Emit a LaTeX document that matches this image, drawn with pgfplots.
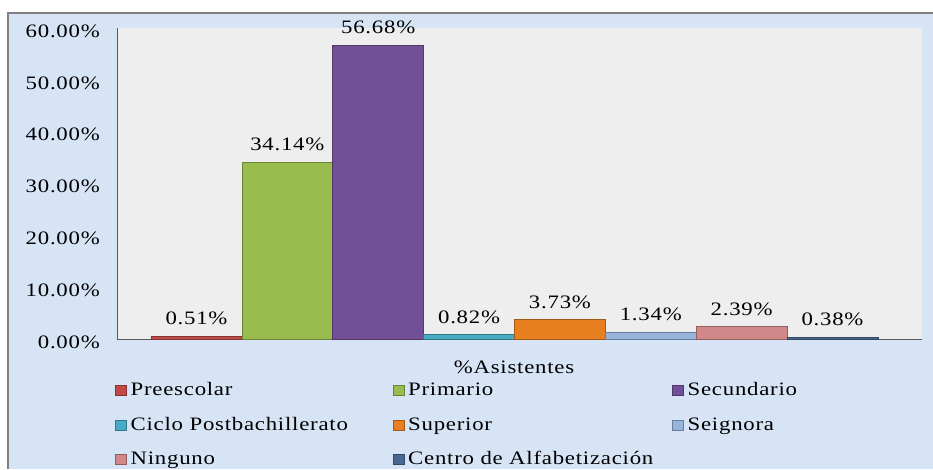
\documentclass[border=0pt]{standalone}
\usepackage{pgfplots}
\pgfplotsset{compat=1.18}
\usepackage{fontspec}
\setmainfont{Liberation Serif}[FakeStretch=1.2,LetterSpace=4]
\definecolor{bgblue}{RGB}{214,228,245}
\definecolor{plotbg}{RGB}{238,238,238}
\definecolor{cPre}{RGB}{192,72,70}
\definecolor{cPri}{RGB}{152,188,78}
\definecolor{cSec}{RGB}{114,80,152}
\definecolor{cCic}{RGB}{72,170,196}
\definecolor{cSup}{RGB}{232,128,34}
\definecolor{cSei}{RGB}{150,180,220}
\definecolor{cNin}{RGB}{208,136,136}
\definecolor{cCen}{RGB}{72,104,146}
\newcommand\cf{\rmfamily\fontsize{19pt}{22pt}\selectfont}
\pgfplotsset{
  mybar/.style={fill=#1, draw=#1!70!black, line width=0.6pt,
    legend image code/.code={\draw[fill=#1, draw=#1!70!black, line width=0.5pt] (0pt,-4pt) rectangle (11pt,6pt);}},
}
\begin{document}
\begin{tikzpicture}
\path[use as bounding box, fill=white] (0,0) rectangle (933pt,-469pt);
\fill[bgblue] (8pt,-13pt) rectangle (933pt,-469pt);
\draw[gray, line width=2pt] (8pt,-469pt) -- (8pt,-13pt) -- (933pt,-13pt);
\node[font=\cf, anchor=north, inner sep=0pt] at (514pt,-361pt) {\%Asistentes};
\begin{axis}[
  at={(117pt,-339pt)}, anchor=south west,
  scale only axis, width=805pt, height=311pt,
  xmin=-0.875, xmax=7.985, ymin=0, ymax=60,
  axis background/.style={fill=plotbg},
  axis x line=bottom, axis y line=left,
  axis line style={-, draw=gray!70!black, line width=0.8pt},
  /pgf/number format/assume math mode=true,
  ytick={0,10,...,60},
  yticklabel={\pgfmathprintnumber[fixed,fixed zerofill,precision=2]{\tick}\%},
  yticklabel style={font=\cf, inner sep=0pt, xshift=-17pt, yshift=-3pt},
  major tick length=0pt,
  xtick=\empty,
  ybar, bar width=1, bar shift=0pt,
  nodes near coords={\pgfmathprintnumber[fixed,fixed zerofill,precision=2]{\pgfplotspointmeta}\%},
  nodes near coords style={font=\cf, inner sep=0pt, yshift=11pt, text=black},
  clip=false,
  legend columns=3,
  legend cell align=left,
  legend style={at={(axis description cs:-0.0025,-0.1435)}, anchor=north west,
    draw=none, fill=none, inner sep=0pt, font=\cf, row sep=19.5pt,
    nodes={inner sep=0pt, text height=12pt, text depth=3pt},
    /tikz/every odd column/.append style={column sep=4pt}},
]
\addplot[mybar=cPre] coordinates {(0,0.51)};
\addlegendentry{\makebox[262pt][l]{Preescolar}}
\addplot[mybar=cPri] coordinates {(1,34.14)};
\addlegendentry{\makebox[264pt][l]{Primario}}
\addplot[mybar=cSec] coordinates {(2,56.68)};
\addlegendentry{Secundario}
\addplot[mybar=cCic] coordinates {(3,0.82)};
\addlegendentry{\makebox[262pt][l]{Ciclo Postbachillerato}}
\addplot[mybar=cSup] coordinates {(4,3.73)};
\addlegendentry{\makebox[264pt][l]{Superior}}
\addplot[mybar=cSei] coordinates {(5,1.34)};
\addlegendentry{Seignora}
\addplot[mybar=cNin] coordinates {(6,2.39)};
\addlegendentry{\makebox[262pt][l]{Ninguno}}
\addplot[mybar=cCen] coordinates {(7,0.38)};
\addlegendentry{\makebox[264pt][l]{Centro de Alfabetización}}
\end{axis}
\end{tikzpicture}
\end{document}
